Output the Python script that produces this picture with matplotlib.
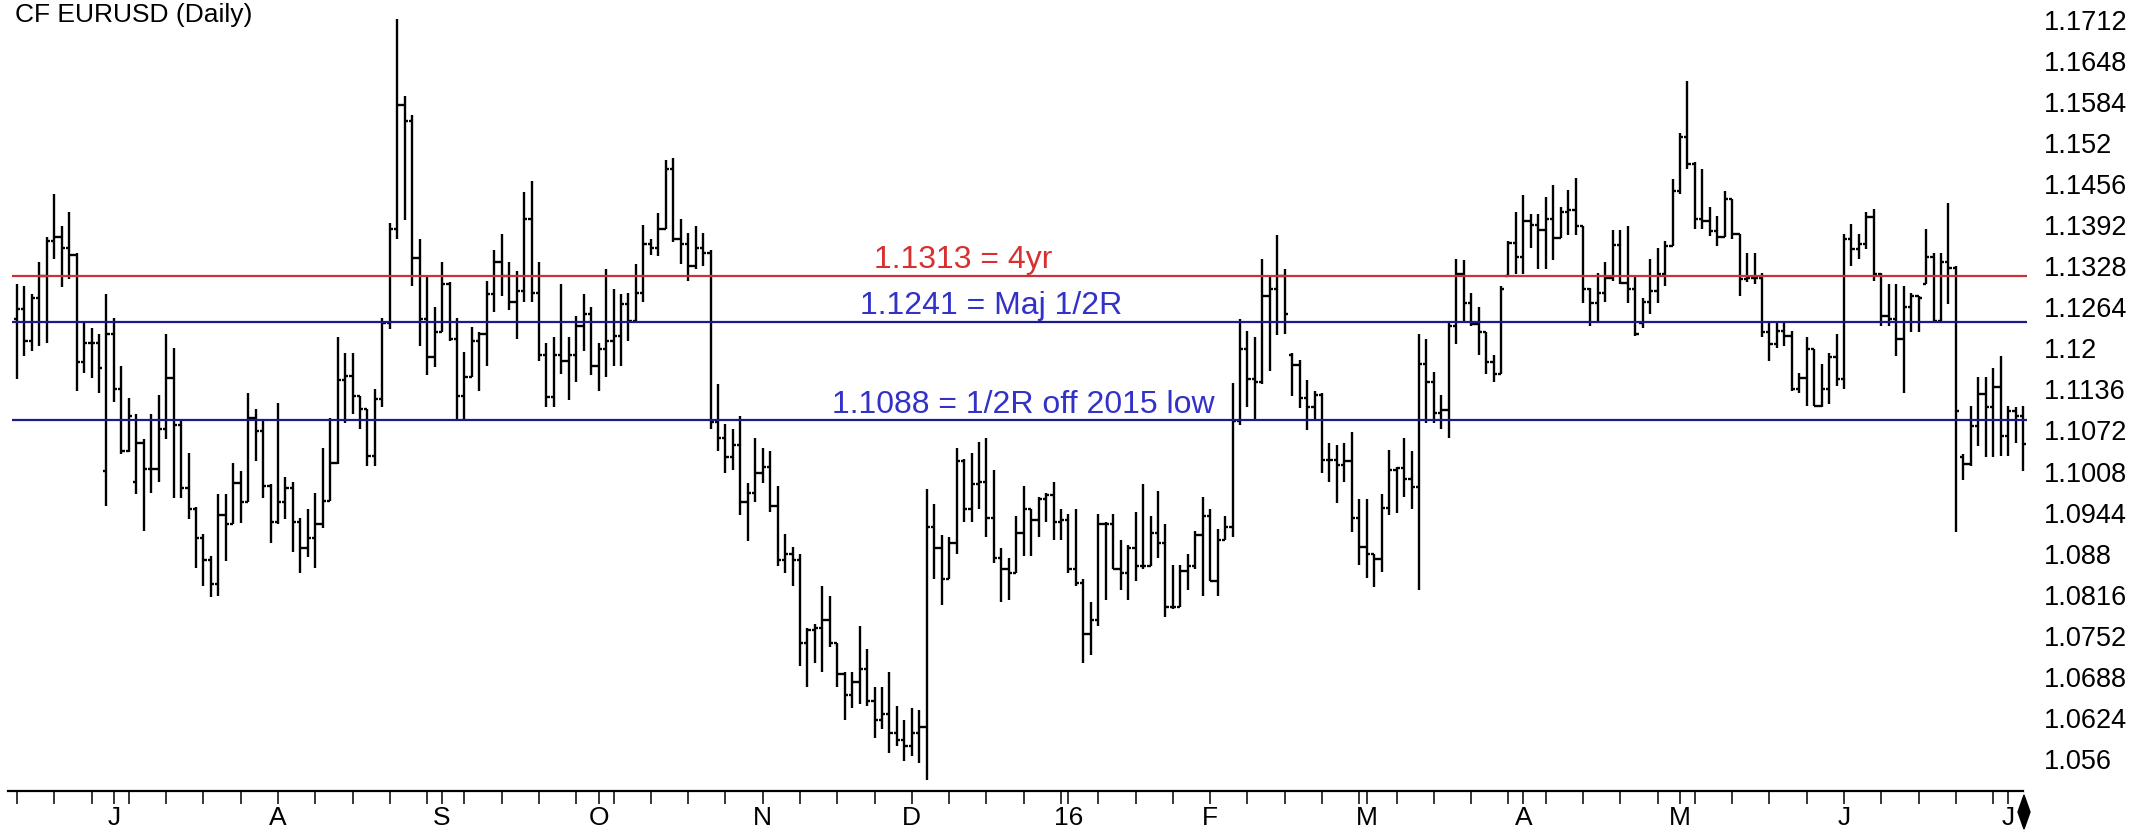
import numpy as np
import matplotlib.pyplot as plt
from matplotlib.patches import Polygon

# EURUSD daily OHLC bars, mid Jun 2015 .. early Jul 2016
opens = [
    1.1245, 1.1262, 1.1212, 1.1279, 1.1313, 1.1368, 1.1373, 1.1356, 1.1345, 1.1178,
    1.1209, 1.1209, 1.1009, 1.1222, 1.1136, 1.1040, 1.0991, 1.1053, 1.1012, 1.1012,
    1.1074, 1.1154, 1.1080, 1.0983, 1.0950, 1.0905, 1.0870, 1.0832, 1.0941, 1.0926,
    1.0990, 1.0960, 1.1092, 1.1071, 1.0986, 1.0930, 1.0960, 1.0983, 1.0930, 1.0889,
    1.0905, 1.0926, 1.0962, 1.1022, 1.1150, 1.1157, 1.1126, 1.1105, 1.1032, 1.1121,
    1.1240, 1.1386, 1.1580, 1.1554, 1.1341, 1.1246, 1.1186, 1.1225, 1.1300, 1.1215,
    1.1126, 1.1155, 1.1212, 1.1222, 1.1284, 1.1334, 1.1313, 1.1272, 1.1290, 1.1401,
    1.1287, 1.1189, 1.1124, 1.1189, 1.1181, 1.1189, 1.1235, 1.1253, 1.1173, 1.1199,
    1.1212, 1.1220, 1.1269, 1.1243, 1.1287, 1.1362, 1.1357, 1.1386, 1.1479, 1.1370,
    1.1362, 1.1329, 1.1357, 1.1349, 1.1085, 1.1060, 1.1030, 1.1050, 1.0960, 1.0975,
    1.1005, 1.1015, 1.0955, 1.0870, 1.0880, 1.0870, 1.0740, 1.0761, 1.0764, 1.0777,
    1.0740, 1.0692, 1.0660, 1.0680, 1.0700, 1.0650, 1.0620, 1.0630, 1.0600, 1.0590,
    1.0580, 1.0600, 1.0610, 1.0922, 1.0889, 1.0840, 1.0896, 1.1024, 1.0949, 1.0988,
    1.0991, 1.0935, 1.0873, 1.0856, 1.0850, 1.0912, 1.0949, 1.0932, 1.0965, 1.0971,
    1.0929, 1.0932, 1.0856, 1.0835, 1.0754, 1.0777, 1.0926, 1.0926, 1.0856, 1.0850,
    1.0889, 1.0860, 1.0860, 1.0912, 1.0896, 1.0797, 1.0797, 1.0853, 1.0860, 1.0909,
    1.0939, 1.0837, 1.0902, 1.0922, 1.1087, 1.1199, 1.1152, 1.1147, 1.1282, 1.1292,
    1.1313, 1.1190, 1.1174, 1.1123, 1.1109, 1.1128, 1.1026, 1.1026, 1.1018, 1.1024,
    1.0935, 1.0890, 1.0879, 1.0871, 1.0951, 1.1010, 1.1013, 1.0997, 1.0984, 1.1176,
    1.1147, 1.1099, 1.1104, 1.1235, 1.1316, 1.1270, 1.1238, 1.1225, 1.1179, 1.1160,
    1.1313, 1.1364, 1.1342, 1.1399, 1.1393, 1.1385, 1.1401, 1.1372, 1.1412, 1.1415,
    1.1391, 1.1292, 1.1270, 1.1286, 1.1310, 1.1361, 1.1302, 1.1292, 1.1240, 1.1273,
    1.1290, 1.1316, 1.1360, 1.1446, 1.1530, 1.1488, 1.1401, 1.1399, 1.1383, 1.1373,
    1.1433, 1.1378, 1.1308, 1.1310, 1.1310, 1.1225, 1.1206, 1.1227, 1.1219, 1.1136,
    1.1154, 1.1199, 1.1110, 1.1136, 1.1186, 1.1152, 1.1370, 1.1355, 1.1362, 1.1404,
    1.1316, 1.1251, 1.1245, 1.1214, 1.1264, 1.1282, 1.1300, 1.1342, 1.1243, 1.1334,
    1.1326, 1.1030, 1.1019, 1.1079, 1.1129, 1.1108, 1.1139, 1.1064, 1.1103, 1.1095,
]
highs = [
    1.1300, 1.1297, 1.1285, 1.1334, 1.1373, 1.1440, 1.1391, 1.1412, 1.1349, 1.1243,
    1.1232, 1.1222, 1.1284, 1.1248, 1.1173, 1.1123, 1.1097, 1.1058, 1.1097, 1.1128,
    1.1222, 1.1201, 1.1089, 1.1037, 1.0952, 1.0910, 1.0876, 1.0973, 1.0973, 1.1022,
    1.1009, 1.1131, 1.1105, 1.1089, 1.0988, 1.1115, 1.0999, 1.0991, 1.0936, 1.0949,
    1.0975, 1.1045, 1.1092, 1.1217, 1.1193, 1.1193, 1.1126, 1.1105, 1.1136, 1.1248,
    1.1396, 1.1714, 1.1594, 1.1564, 1.1370, 1.1313, 1.1264, 1.1334, 1.1303, 1.1248,
    1.1194, 1.1233, 1.1225, 1.1305, 1.1354, 1.1378, 1.1334, 1.1321, 1.1443, 1.1461,
    1.1334, 1.1209, 1.1217, 1.1300, 1.1217, 1.1251, 1.1284, 1.1264, 1.1209, 1.1323,
    1.1292, 1.1284, 1.1287, 1.1331, 1.1393, 1.1370, 1.1411, 1.1494, 1.1497, 1.1401,
    1.1380, 1.1391, 1.1380, 1.1354, 1.1145, 1.1082, 1.1075, 1.1095, 1.0990, 1.1060,
    1.1045, 1.1040, 1.0985, 1.0910, 1.0890, 1.0880, 1.0764, 1.0771, 1.0830, 1.0814,
    1.0741, 1.0695, 1.0695, 1.0767, 1.0731, 1.0672, 1.0672, 1.0695, 1.0643, 1.0620,
    1.0639, 1.0636, 1.0981, 1.0958, 1.0909, 1.0906, 1.1044, 1.1027, 1.1037, 1.1054,
    1.1060, 1.1011, 1.0889, 1.0873, 1.0939, 1.0985, 1.0949, 1.0968, 1.0975, 1.0991,
    1.0949, 1.0942, 1.0949, 1.0840, 1.0804, 1.0942, 1.0929, 1.0942, 1.0902, 1.0893,
    1.0945, 1.0988, 1.0939, 1.0978, 1.0926, 1.0863, 1.0863, 1.0880, 1.0916, 1.0968,
    1.0949, 1.0919, 1.0939, 1.1146, 1.1245, 1.1227, 1.1217, 1.1340, 1.1313, 1.1377,
    1.1324, 1.1193, 1.1182, 1.1150, 1.1134, 1.1130, 1.1053, 1.1050, 1.1053, 1.1069,
    1.0965, 1.0965, 1.0879, 1.0973, 1.1042, 1.1015, 1.1061, 1.1040, 1.1222, 1.1214,
    1.1163, 1.1128, 1.1243, 1.1340, 1.1337, 1.1286, 1.1265, 1.1225, 1.1190, 1.1297,
    1.1367, 1.1412, 1.1439, 1.1409, 1.1409, 1.1436, 1.1455, 1.1420, 1.1447, 1.1466,
    1.1391, 1.1294, 1.1318, 1.1334, 1.1385, 1.1385, 1.1391, 1.1313, 1.1278, 1.1339,
    1.1357, 1.1368, 1.1464, 1.1536, 1.1616, 1.1490, 1.1479, 1.1420, 1.1407, 1.1446,
    1.1433, 1.1378, 1.1349, 1.1349, 1.1318, 1.1243, 1.1243, 1.1243, 1.1227, 1.1162,
    1.1217, 1.1199, 1.1175, 1.1193, 1.1222, 1.1378, 1.1394, 1.1378, 1.1412, 1.1417,
    1.1318, 1.1300, 1.1300, 1.1297, 1.1287, 1.1282, 1.1386, 1.1349, 1.1349, 1.1427,
    1.1328, 1.1035, 1.1110, 1.1155, 1.1155, 1.1170, 1.1188, 1.1110, 1.1108, 1.1110,
]
lows = [
    1.1152, 1.1188, 1.1196, 1.1204, 1.1209, 1.1339, 1.1295, 1.1308, 1.1133, 1.1162,
    1.1154, 1.1131, 1.0954, 1.1116, 1.1035, 1.1038, 1.0973, 1.0915, 1.0975, 1.0991,
    1.1058, 1.0967, 1.0967, 1.0934, 1.0858, 1.0830, 1.0812, 1.0814, 1.0869, 1.0926,
    1.0928, 1.0960, 1.1025, 1.0967, 1.0897, 1.0926, 1.0934, 1.0882, 1.0850, 1.0874,
    1.0858, 1.0920, 1.0962, 1.1020, 1.1084, 1.1097, 1.1074, 1.1017, 1.1017, 1.1108,
    1.1230, 1.1370, 1.1400, 1.1297, 1.1204, 1.1158, 1.1171, 1.1225, 1.1212, 1.1090,
    1.1090, 1.1155, 1.1134, 1.1173, 1.1256, 1.1282, 1.1259, 1.1215, 1.1272, 1.1272,
    1.1181, 1.1108, 1.1108, 1.1160, 1.1119, 1.1147, 1.1196, 1.1158, 1.1134, 1.1155,
    1.1173, 1.1173, 1.1212, 1.1243, 1.1272, 1.1345, 1.1344, 1.1386, 1.1365, 1.1331,
    1.1305, 1.1323, 1.1329, 1.1075, 1.1040, 1.1005, 1.1010, 1.0940, 1.0900, 1.0960,
    1.0990, 1.0945, 1.0860, 1.0850, 1.0830, 1.0705, 1.0672, 1.0709, 1.0695, 1.0735,
    1.0672, 1.0620, 1.0639, 1.0646, 1.0643, 1.0593, 1.0606, 1.0570, 1.0580, 1.0557,
    1.0564, 1.0554, 1.0527, 1.0840, 1.0800, 1.0840, 1.0880, 1.0929, 1.0929, 1.0949,
    1.0906, 1.0866, 1.0804, 1.0807, 1.0850, 1.0876, 1.0876, 1.0906, 1.0929, 1.0902,
    1.0902, 1.0850, 1.0830, 1.0709, 1.0722, 1.0767, 1.0807, 1.0856, 1.0824, 1.0807,
    1.0837, 1.0856, 1.0860, 1.0873, 1.0781, 1.0794, 1.0797, 1.0824, 1.0856, 1.0814,
    1.0837, 1.0814, 1.0902, 1.0906, 1.1080, 1.1109, 1.1088, 1.1145, 1.1165, 1.1221,
    1.1222, 1.1125, 1.1107, 1.1072, 1.1088, 1.1005, 1.0992, 1.0959, 1.0992, 1.0914,
    1.0863, 1.0842, 1.0828, 1.0852, 1.0941, 1.0943, 1.0968, 1.0949, 1.0823, 1.1083,
    1.1083, 1.1075, 1.1061, 1.1206, 1.1243, 1.1235, 1.1190, 1.1160, 1.1147, 1.1160,
    1.1313, 1.1316, 1.1316, 1.1356, 1.1324, 1.1324, 1.1337, 1.1372, 1.1377, 1.1377,
    1.1270, 1.1235, 1.1243, 1.1273, 1.1305, 1.1300, 1.1270, 1.1219, 1.1232, 1.1253,
    1.1271, 1.1297, 1.1360, 1.1440, 1.1480, 1.1386, 1.1386, 1.1375, 1.1360, 1.1373,
    1.1370, 1.1282, 1.1303, 1.1300, 1.1217, 1.1180, 1.1201, 1.1204, 1.1134, 1.1131,
    1.1110, 1.1110, 1.1108, 1.1113, 1.1141, 1.1136, 1.1329, 1.1339, 1.1355, 1.1305,
    1.1235, 1.1235, 1.1188, 1.1131, 1.1225, 1.1225, 1.1300, 1.1240, 1.1240, 1.1269,
    1.0913, 1.0995, 1.1017, 1.1048, 1.1030, 1.1030, 1.1032, 1.1032, 1.1053, 1.1009,
]
closes = [
    1.1262, 1.1212, 1.1279, 1.1313, 1.1368, 1.1373, 1.1356, 1.1345, 1.1178, 1.1209,
    1.1209, 1.1170, 1.1222, 1.1136, 1.1040, 1.1095, 1.1053, 1.1012, 1.1012, 1.1074,
    1.1154, 1.1080, 1.0983, 1.0950, 1.0905, 1.0870, 1.0832, 1.0941, 1.0926, 1.0990,
    1.0960, 1.1092, 1.1071, 1.0986, 1.0930, 1.0960, 1.0983, 1.0930, 1.0889, 1.0905,
    1.0926, 1.0962, 1.1022, 1.1150, 1.1157, 1.1126, 1.1105, 1.1032, 1.1121, 1.1240,
    1.1386, 1.1580, 1.1554, 1.1341, 1.1246, 1.1186, 1.1225, 1.1300, 1.1215, 1.1126,
    1.1155, 1.1212, 1.1222, 1.1284, 1.1334, 1.1313, 1.1272, 1.1290, 1.1401, 1.1287,
    1.1189, 1.1124, 1.1189, 1.1181, 1.1189, 1.1235, 1.1253, 1.1173, 1.1199, 1.1212,
    1.1220, 1.1269, 1.1243, 1.1287, 1.1362, 1.1357, 1.1386, 1.1479, 1.1370, 1.1362,
    1.1329, 1.1357, 1.1349, 1.1085, 1.1060, 1.1030, 1.1050, 1.0960, 1.0975, 1.1005,
    1.1015, 1.0955, 1.0870, 1.0880, 1.0870, 1.0740, 1.0761, 1.0764, 1.0777, 1.0740,
    1.0692, 1.0660, 1.0680, 1.0700, 1.0650, 1.0620, 1.0630, 1.0600, 1.0590, 1.0580,
    1.0600, 1.0610, 1.0922, 1.0889, 1.0840, 1.0896, 1.1024, 1.0949, 1.0988, 1.0991,
    1.0935, 1.0873, 1.0856, 1.0850, 1.0912, 1.0949, 1.0932, 1.0965, 1.0971, 1.0929,
    1.0932, 1.0856, 1.0835, 1.0754, 1.0777, 1.0926, 1.0926, 1.0856, 1.0850, 1.0889,
    1.0860, 1.0860, 1.0912, 1.0896, 1.0797, 1.0797, 1.0853, 1.0860, 1.0909, 1.0939,
    1.0837, 1.0902, 1.0922, 1.1087, 1.1199, 1.1152, 1.1147, 1.1282, 1.1292, 1.1313,
    1.1254, 1.1174, 1.1123, 1.1109, 1.1128, 1.1026, 1.1026, 1.1018, 1.1024, 1.0935,
    1.0890, 1.0879, 1.0871, 1.0951, 1.1010, 1.1013, 1.0997, 1.0984, 1.1176, 1.1147,
    1.1099, 1.1104, 1.1235, 1.1316, 1.1270, 1.1238, 1.1225, 1.1179, 1.1160, 1.1292,
    1.1364, 1.1342, 1.1399, 1.1393, 1.1385, 1.1401, 1.1372, 1.1412, 1.1415, 1.1391,
    1.1292, 1.1270, 1.1286, 1.1310, 1.1361, 1.1302, 1.1292, 1.1222, 1.1273, 1.1290,
    1.1316, 1.1360, 1.1446, 1.1530, 1.1488, 1.1401, 1.1399, 1.1383, 1.1373, 1.1433,
    1.1378, 1.1308, 1.1310, 1.1310, 1.1225, 1.1206, 1.1227, 1.1219, 1.1136, 1.1154,
    1.1199, 1.1110, 1.1136, 1.1186, 1.1152, 1.1370, 1.1355, 1.1362, 1.1404, 1.1316,
    1.1251, 1.1245, 1.1214, 1.1264, 1.1282, 1.1279, 1.1342, 1.1243, 1.1334, 1.1326,
    1.1102, 1.1019, 1.1079, 1.1129, 1.1108, 1.1139, 1.1064, 1.1103, 1.1095, 1.1051,
]

# bar number where each month starts
month_labels = ['J', 'A', 'S', 'O', 'N', 'D', '16', 'F', 'M', 'A', 'M', 'J', 'J']
month_start_bar = [13, 35, 57, 78, 100, 120, 141, 160, 181, 202, 223, 245, 267]

price_ticks = [1.1712, 1.1648, 1.1584, 1.152, 1.1456, 1.1392, 1.1328, 1.1264, 1.12,
               1.1136, 1.1072, 1.1008, 1.0944, 1.088, 1.0816, 1.0752, 1.0688, 1.0624, 1.056]
price_tick_labels = ['1.1712', '1.1648', '1.1584', '1.152', '1.1456', '1.1392', '1.1328',
                     '1.1264', '1.12', '1.1136', '1.1072', '1.1008', '1.0944', '1.088',
                     '1.0816', '1.0752', '1.0688', '1.0624', '1.056']

levels = [1.1313, 1.1241, 1.1088]
level_notes = ['1.1313 = 4yr', '1.1241 = Maj 1/2R', '1.1088 = 1/2R off 2015 low']

# styling / layout
line_colours = ['#c8323a', '#1a1a90', '#1a1a90']
text_colours = ['#d83030', '#3232c8', '#3232c8']
note_x = [126.9, 130.6, 134.9]

plt.rcParams['font.family'] = ['Liberation Sans', 'DejaVu Sans']

W, H = 2150, 839
fig = plt.figure(figsize=(W / 100, H / 100), dpi=100)
ax = fig.add_axes([8 / W, 48 / H, (2030 - 8) / W, 791 / H])

n = len(closes)
x = np.arange(n)
dx = 2006 / (n - 1)          # pixels per bar
half = 0.45                  # tick half width in bars

ax.vlines(x, lows, highs, colors='black', lw=1.7)
ax.hlines(opens, x - half, x, colors='black', lw=1.7)
ax.hlines(closes, x, x + half, colors='black', lw=1.7)

for lv, note, lc, tc, nx in zip(levels, level_notes, line_colours, text_colours, note_x):
    ax.hlines(lv, -0.7, n - 0.5, colors=lc, lw=1.6, zorder=3)
    ax.annotate(note, (nx, lv), xytext=(0, 5.5), textcoords='offset points',
                ha='center', va='baseline', color=tc, fontsize=23)

ax.set_xlim((8 - 17) / dx, (2030 - 17) / dx)
ax.set_ylim(1.0510, 1.1743)

for s in ['top', 'left', 'right']:
    ax.spines[s].set_visible(False)
ax.spines['bottom'].set_linewidth(1.6)
ax.spines['bottom'].set_bounds((8 - 17) / dx, n - 1)

ax.set_xticks(month_start_bar)
ax.set_xticklabels(month_labels, fontsize=19)
ax.set_xticks(np.arange(0, n, 5), minor=True)
ax.tick_params(axis='x', which='both', direction='out', length=9, width=1.1, pad=2)

ax.yaxis.tick_right()
ax.set_yticks(price_ticks)
ax.set_yticklabels(price_tick_labels, fontsize=19.5)
ax.tick_params(axis='y', length=0, pad=10)

# end-of-axis diamond
cx, cy = 2024, 812
diamond = [(cx, cy - 17), (cx + 6, cy), (cx, cy + 17), (cx - 6, cy)]
fig.patches.append(Polygon([(px / W, 1 - py / H) for px, py in diamond], closed=True,
                           facecolor='black', edgecolor='black',
                           transform=fig.transFigure, figure=fig))

# chart title in the top-left corner
fig.text(15 / W, 1 - 22 / H, 'CF EURUSD (Daily)', fontsize=19, va='baseline', ha='left')

fig.savefig('out.png', dpi=100, facecolor='white')
